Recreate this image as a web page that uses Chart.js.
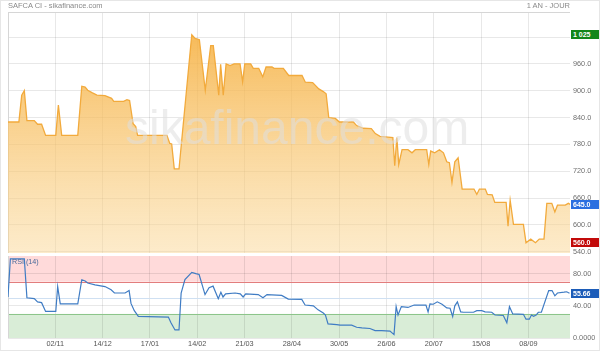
<!DOCTYPE html>
<html>
<head>
<meta charset="utf-8">
<title>SAFCA CI</title>
<script src="https://cdn.jsdelivr.net/npm/chart.js@4.4.0/dist/chart.umd.min.js"></script>
<style>
  body { margin: 0; background: #fff; font-family: "Liberation Sans", Arial, sans-serif; }
  #wrap { position: relative; width: 600px; height: 351px; overflow: hidden; }
  #frame { position: absolute; left: 0; top: 0; width: 600px; height: 351px; box-sizing: border-box;
           border: 1px solid #e6e6e6; pointer-events: none; }
  canvas { position: absolute; left: 0; }
  #priceCanvas { top: 0; }
  #rsiCanvas { top: 255px; }
  .txt { position: absolute; white-space: nowrap; line-height: 1; }
  #title { left: 8px; top: 2px; font-size: 7.5px; color: #8a8a8a; }
  #period { right: 30px; top: 2px; font-size: 7.5px; color: #8a8a8a; }
  #watermark { left: 125px; top: 104px; font-size: 48px; line-height: 48px; color: rgba(222, 222, 222, 0.55); }
  #rsiLabel { left: 12px; top: 257.5px; font-size: 7.2px; color: #4a6a9a; }
  .tag { position: absolute; left: 571px; width: 29px; height: 9px; line-height: 9px; box-sizing: border-box;
         padding-left: 2px; font-size: 7px; font-weight: bold; color: #fff; white-space: nowrap; }
</style>
</head>
<body>
<div id="wrap">
  <canvas id="priceCanvas" width="600" height="256"></canvas>
  <canvas id="rsiCanvas" width="600" height="96"></canvas>
  <div id="title" class="txt">SAFCA CI - sikafinance.com</div>
  <div id="period" class="txt">1 AN - JOUR</div>
  <div id="watermark" class="txt">sikafinance.com</div>
  <div id="rsiLabel" class="txt">RSI (14)</div>
  <div id="tagMax" class="tag" style="background:#13861a"></div>
  <div id="tagLast" class="tag" style="background:#2a6fe0"></div>
  <div id="tagMin" class="tag" style="background:#c20a0a"></div>
  <div id="tagRsi" class="tag" style="background:#1c5cb8"></div>
  <div id="frame"></div>
</div>
<script>
/* ---------------- DATA ---------------- */
// x = trading session index, one date label every 20 sessions
const dateLabels = ["02/11", "14/12", "17/01", "14/02", "21/03", "28/04", "30/05", "26/06", "20/07", "15/08", "08/09"];
const dateTickIdx = [20, 40, 60, 80, 100, 120, 140, 160, 180, 200, 220];

const priceTicks = [540, 600, 660, 720, 780, 840, 900, 960, 1020];
const priceTickLabels = ["540.0", "600.0", "660.0", "720.0", "780.0", "840.0", "900.0", "960.0", ""];

const rsiTicks = [0, 40, 80];
const rsiTickLabels = ["0.0000", "40.00", "80.00"];
const rsiHigh = 70;
const rsiMid = 50;
const rsiLow = 30;

// closing price, read at each vertex of the line
const priceX = [0, 4.6, 5.8, 6.9, 8.0, 11.1, 12.5, 14.2, 15.9, 20.2,
  21.3, 22.7, 29.5, 31.2, 32.6, 33.7, 35.7, 37.6, 41.0, 43.8,
  44.7, 48.9, 50.3, 51.4, 52.9, 54.0, 54.8, 67.2, 68.4, 69.2,
  70.3, 72.3, 77.7, 79.1, 80.9, 83.4, 85.7, 86.8, 89.1, 89.9,
  91.0, 92.2, 93.9, 95.6, 98.1, 99.2, 100.1, 102.6, 103.7, 106.0,
  107.7, 109.1, 111.6, 112.5, 116.4, 118.7, 124.3, 125.7, 128.8, 131.4,
  133.3, 134.5, 135.6, 138.4, 140.1, 146.0, 147.4, 150.2, 153.6, 155.3,
  157.3, 162.7, 163.5, 164.4, 165.2, 166.6, 169.1, 170.8, 172.2, 177.0,
  177.9, 178.7, 180.4, 182.4, 184.1, 185.5, 186.6, 187.7, 188.9, 190.3,
  192.0, 197.0, 198.2, 199.3, 201.8, 202.7, 204.7, 205.8, 210.6, 211.4,
  212.3, 213.7, 217.9, 219.0, 221.0, 223.0, 224.6, 226.6, 227.8, 229.9,
  231.2, 232.3, 235.6, 236.9, 237.9];
const priceY = [830, 830, 890, 900, 833, 833, 825, 825, 800, 800,
  868, 800, 800, 910, 908, 901, 895, 890, 889, 883,
  876, 876, 880, 878, 826, 820, 800, 800, 782, 781,
  725, 725, 1025, 1017, 1014, 901, 1001, 1001, 890, 959,
  890, 960, 956, 960, 960, 920, 960, 960, 950, 950,
  931, 953, 953, 950, 950, 934, 934, 919, 918, 904,
  898, 893, 840, 838, 830, 830, 822, 816, 815, 804,
  798, 795, 732, 795, 735, 768, 768, 761, 768, 768,
  735, 765, 761, 768, 761, 741, 739, 695, 741, 750,
  680, 680, 668, 680, 680, 668, 667, 650, 650, 597,
  655, 601, 601, 560, 568, 560, 568, 568, 648, 648,
  629, 644, 644, 648, 645];

// RSI (14)
const rsiX = [0, 1.0, 6.9, 8.0, 11.1, 12.5, 14.2, 15.9, 20.2, 21.0,
  22.1, 29.5, 31.2, 32.6, 33.7, 36.8, 41.0, 43.6, 45.0, 49.5,
  51.2, 52.0, 53.4, 55.1, 67.8, 68.9, 70.6, 72.3, 73.2, 74.8,
  77.7, 79.4, 80.8, 83.3, 85.0, 86.7, 88.9, 90.0, 90.9, 92.0,
  96.0, 98.2, 99.4, 100.5, 105.8, 107.8, 109.5, 115.7, 118.5, 124.2,
  125.6, 129.1, 131.1, 133.3, 134.2, 135.3, 139.0, 140.4, 145.3, 147.4,
  149.6, 153.0, 155.2, 158.0, 161.5, 163.2, 164.1, 164.9, 166.3, 169.1,
  171.7, 176.7, 177.6, 178.4, 179.8, 181.5, 183.5, 185.5, 186.9, 188.0,
  188.9, 190.0, 191.4, 192.5, 196.8, 198.2, 200.3, 201.7, 204.5, 205.9,
  209.4, 210.9, 212.0, 213.4, 217.9, 219.0, 220.4, 221.3, 222.2, 223.3,
  224.2, 225.5, 228.6, 230.0, 231.2, 232.3, 235.1, 236.2, 237.4];
const rsiY = [51, 98.4, 98.4, 50, 49, 45, 44, 33, 33, 64,
  42.5, 42.5, 72.5, 71, 68.4, 66, 64, 60, 56, 56,
  59, 43, 34, 27, 26, 19, 10, 10, 56, 72.6,
  81.7, 80, 79, 54, 62.5, 64.5, 49, 57, 51, 55,
  56, 55, 51, 55, 54, 50, 54, 53, 48.4, 48,
  41, 40, 35, 31, 28.6, 17.5, 16.7, 16, 16, 13.4,
  12.6, 11.8, 9.2, 9.2, 8.5, 4.2, 39, 28.6, 39, 38,
  41, 41, 32.5, 42.5, 42, 45, 42, 37.5, 37, 26.7,
  40, 45, 32.5, 32, 32, 34, 34, 32.5, 32, 28.6,
  28, 19, 39, 30, 29.5, 23.4, 23.4, 28.6, 27, 28.6,
  32, 32, 59, 59, 52.5, 56, 57, 57.5, 55.66];

/* ---------------- SHARED OPTIONS ---------------- */
const FONT = "'Liberation Sans', Arial, sans-serif";
const GRID = "rgba(0,0,0,0.09)";

function xScale(showLabels) {
  return {
    type: "linear",
    min: 0,
    max: 237.6,
    border: { display: false },
    grid: { color: GRID, drawTicks: false },
    ticks: {
      display: showLabels,
      padding: 2,
      color: "#555",
      font: { size: 7.3, family: FONT },
      autoSkip: false,
      maxRotation: 0,
      callback: (v, i) => dateLabels[i]
    },
    afterBuildTicks: (s) => { s.ticks = dateTickIdx.map((v) => ({ value: v })); },
    afterFit: (s) => { s.height = showLabels ? 12 : 0; }
  };
}

function rightAxis(min, max, ticks, labels) {
  return {
    position: "right",
    min: min,
    max: max,
    border: { display: false },
    grid: { color: GRID, drawTicks: false },
    ticks: {
      padding: 3,
      color: "#707070",
      font: { size: 7.3, family: FONT },
      callback: (v, i) => labels[i]
    },
    afterBuildTicks: (s) => { s.ticks = ticks.map((v) => ({ value: v })); },
    afterFit: (s) => {
      s.width = 30;
      s.paddingTop = 0;
      s.paddingBottom = 0;
    }
  };
}

const framePlugin = {
  id: "frame",
  beforeDatasetsDraw(chart, args, opts) {
    const { ctx, chartArea: a } = chart;
    ctx.save();
    ctx.strokeStyle = "#d6d6d6";
    ctx.lineWidth = 1;
    ctx.beginPath();
    ctx.moveTo(a.left + 0.5, a.top);
    ctx.lineTo(a.left + 0.5, a.bottom);
    if (opts.top) {
      ctx.moveTo(a.left, a.top + 0.5);
      ctx.lineTo(a.right, a.top + 0.5);
    }
    ctx.stroke();
    ctx.restore();
  }
};

/* ---------------- PRICE CHART ---------------- */
const priceChart = new Chart(document.getElementById("priceCanvas"), {
  type: "line",
  data: {
    datasets: [{
      data: priceX.map((x, i) => ({ x: x, y: priceY[i] })),
      borderColor: "#f2aa3c",
      borderWidth: 1.3,
      pointRadius: 0,
      tension: 0,
      fill: "start",
      backgroundColor: (c) => {
        const a = c.chart.chartArea;
        if (!a) return "rgba(247,190,100,0.6)";
        const g = c.chart.ctx.createLinearGradient(0, a.top, 0, a.bottom);
        g.addColorStop(0, "rgba(245,172,55,0.9)");
        g.addColorStop(1, "rgba(250,215,150,0.5)");
        return g;
      }
    }]
  },
  options: {
    responsive: false,
    animation: false,
    events: [],
    layout: { padding: { left: 8, top: 12, right: 0, bottom: 3 } },
    plugins: { legend: { display: false }, tooltip: { enabled: false }, frame: { top: true } },
    scales: {
      x: xScale(false),
      y: rightAxis(537, 1076, priceTicks, priceTickLabels)
    }
  },
  plugins: [framePlugin]
});

/* ---------------- RSI CHART ---------------- */
const bandsPlugin = {
  id: "bands",
  beforeDraw(chart) {
    const { ctx, chartArea: a, scales: { y } } = chart;
    const hi = y.getPixelForValue(rsiHigh);
    const lo = y.getPixelForValue(rsiLow);
    ctx.save();
    ctx.fillStyle = "#ffdada";
    ctx.fillRect(a.left, a.top, a.width, hi - a.top);
    ctx.fillStyle = "#d9edd7";
    ctx.fillRect(a.left, lo, a.width, a.bottom - lo);
    ctx.restore();
  },
  beforeDatasetsDraw(chart) {
    const { ctx, chartArea: a, scales: { y } } = chart;
    const levels = [[rsiHigh, "#e27d7d"], [rsiLow, "#8cc58a"], [rsiMid, "#cfe0f2"]];
    ctx.save();
    ctx.lineWidth = 1;
    levels.forEach(([v, col]) => {
      const py = Math.round(y.getPixelForValue(v)) + 0.5;
      ctx.strokeStyle = col;
      ctx.beginPath();
      ctx.moveTo(a.left, py);
      ctx.lineTo(a.right, py);
      ctx.stroke();
    });
    ctx.restore();
  }
};

const rsiChart = new Chart(document.getElementById("rsiCanvas"), {
  type: "line",
  data: {
    datasets: [{
      data: rsiX.map((x, i) => ({ x: x, y: rsiY[i] })),
      borderColor: "#3f7cc4",
      borderWidth: 1.2,
      pointRadius: 0,
      tension: 0,
      fill: false
    }]
  },
  options: {
    responsive: false,
    animation: false,
    events: [],
    layout: { padding: { left: 8, top: 1, right: 0, bottom: 1 } },
    plugins: { legend: { display: false }, tooltip: { enabled: false }, frame: { top: false } },
    scales: {
      x: xScale(true),
      y: rightAxis(0, 102, rsiTicks, rsiTickLabels)
    }
  },
  plugins: [bandsPlugin, framePlugin]
});

/* ---------------- VALUE TAGS ---------------- */
function fmtPrice(v) {
  if (v >= 1000) return String(Math.round(v)).replace(/\B(?=(\d{3})+(?!\d))/g, " ");
  return v.toFixed(1);
}

function placeTag(id, text, py) {
  const el = document.getElementById(id);
  el.textContent = text;
  el.style.top = (py - 4.5) + "px";
}

const pMax = Math.max(...priceY);
const pMin = Math.min(...priceY);
const pLast = priceY[priceY.length - 1];
const rLast = rsiY[rsiY.length - 1];
const py = priceChart.scales.y;
const ry = rsiChart.scales.y;
const rsiTop = document.getElementById("rsiCanvas").offsetTop;

placeTag("tagMax", fmtPrice(pMax), py.getPixelForValue(pMax));
placeTag("tagLast", fmtPrice(pLast), py.getPixelForValue(pLast));
placeTag("tagMin", fmtPrice(pMin), py.getPixelForValue(pMin));
placeTag("tagRsi", rLast.toFixed(2), rsiTop + ry.getPixelForValue(rLast));
</script>
</body>
</html>
